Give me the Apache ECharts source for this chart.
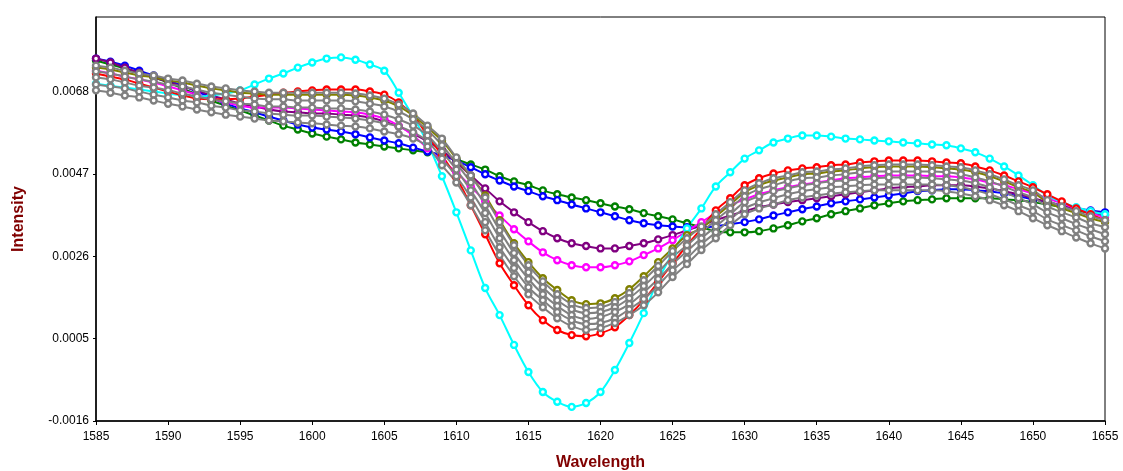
<!DOCTYPE html>
<html>
<head>
<meta charset="utf-8">
<title>Intensity vs Wavelength</title>
<script src="https://cdn.jsdelivr.net/npm/echarts@6/dist/echarts.min.js"></script>
<style>
  html, body { margin: 0; padding: 0; background: #fff; }
  #chart { width: 1123px; height: 471px; }
</style>
</head>
<body>
<div id="chart"></div>
<script>
// 波长采样点：1585 ~ 1655 nm，步长 1 nm
const wavelengths = []
for (let w = 1585; w <= 1655; w++) wavelengths.push(w)

// Y 轴刻度
const yTicks = [-0.0016, 0.0005, 0.0026, 0.0047, 0.0068]

// 各光谱曲线
const cyan = [0.00700,0.00695,0.00690,0.00685,0.00680,0.00675,0.00670,0.00667,0.00670,0.00675,
  0.00683,0.00698,0.00713,0.00726,0.00741,0.00754,0.00764,0.00767,0.00761,0.00749,
  0.00733,0.00677,0.00616,0.00548,0.00464,0.00372,0.00275,0.00179,0.00110,0.00034,
  -0.00035,-0.00086,-0.00111,-0.00124,-0.00114,-0.00086,-0.00030,0.00039,0.00115,0.00199,
  0.00268,0.00331,0.00382,0.00438,0.00474,0.00509,0.00530,0.00550,0.00560,0.00568,
  0.00568,0.00565,0.00560,0.00558,0.00555,0.00553,0.00550,0.00548,0.00545,0.00543,
  0.00535,0.00525,0.00509,0.00489,0.00466,0.00441,0.00415,0.00398,0.00385,0.00375,
  0.00367]

const red = [0.00726,0.00718,0.00711,0.00700,0.00690,0.00680,0.00670,0.00662,0.00660,0.00660,
  0.00662,0.00667,0.00672,0.00677,0.00680,0.00683,0.00685,0.00685,0.00685,0.00680,
  0.00672,0.00652,0.00619,0.00568,0.00517,0.00461,0.00390,0.00316,0.00242,0.00186,
  0.00135,0.00097,0.00072,0.00059,0.00056,0.00064,0.00079,0.00110,0.00148,0.00194,
  0.00242,0.00288,0.00331,0.00377,0.00408,0.00441,0.00459,0.00471,0.00479,0.00484,
  0.00487,0.00492,0.00494,0.00499,0.00502,0.00504,0.00504,0.00504,0.00502,0.00499,
  0.00497,0.00489,0.00479,0.00466,0.00451,0.00436,0.00418,0.00400,0.00382,0.00367,
  0.00352]

const olive = [0.00741,0.00736,0.00728,0.00721,0.00716,0.00708,0.00703,0.00695,0.00688,0.00683,
  0.00677,0.00675,0.00672,0.00672,0.00672,0.00672,0.00672,0.00672,0.00670,0.00665,
  0.00657,0.00642,0.00619,0.00588,0.00555,0.00509,0.00464,0.00415,0.00352,0.00293,
  0.00245,0.00204,0.00174,0.00148,0.00138,0.00140,0.00153,0.00176,0.00209,0.00245,
  0.00280,0.00314,0.00331,0.00362,0.00392,0.00423,0.00441,0.00453,0.00461,0.00469,
  0.00471,0.00476,0.00479,0.00484,0.00487,0.00489,0.00489,0.00489,0.00487,0.00484,
  0.00481,0.00474,0.00464,0.00451,0.00436,0.00423,0.00398,0.00382,0.00370,0.00357,
  0.00347]

const gray1 = [0.00746,0.00741,0.00733,0.00726,0.00721,0.00713,0.00708,0.00700,0.00693,0.00688,
  0.00683,0.00680,0.00677,0.00677,0.00677,0.00677,0.00677,0.00677,0.00675,0.00670,
  0.00662,0.00647,0.00624,0.00593,0.00560,0.00512,0.00466,0.00410,0.00347,0.00288,
  0.00237,0.00196,0.00163,0.00138,0.00128,0.00130,0.00143,0.00166,0.00199,0.00235,
  0.00273,0.00306,0.00336,0.00367,0.00398,0.00428,0.00446,0.00459,0.00466,0.00474,
  0.00476,0.00481,0.00484,0.00489,0.00492,0.00494,0.00494,0.00494,0.00492,0.00489,
  0.00487,0.00479,0.00469,0.00456,0.00441,0.00428,0.00403,0.00387,0.00375,0.00362,
  0.00352]

const gray2 = [0.00731,0.00726,0.00718,0.00711,0.00705,0.00698,0.00693,0.00685,0.00677,0.00672,
  0.00667,0.00662,0.00660,0.00660,0.00657,0.00657,0.00657,0.00657,0.00655,0.00649,
  0.00642,0.00629,0.00609,0.00581,0.00543,0.00497,0.00448,0.00390,0.00326,0.00268,
  0.00219,0.00181,0.00148,0.00125,0.00115,0.00118,0.00130,0.00153,0.00184,0.00219,
  0.00258,0.00288,0.00321,0.00352,0.00382,0.00413,0.00431,0.00441,0.00451,0.00459,
  0.00461,0.00466,0.00469,0.00474,0.00476,0.00476,0.00476,0.00476,0.00476,0.00474,
  0.00469,0.00461,0.00451,0.00438,0.00423,0.00410,0.00387,0.00372,0.00359,0.00344,
  0.00334]

const gray3 = [0.00716,0.00711,0.00703,0.00695,0.00690,0.00683,0.00675,0.00667,0.00660,0.00655,
  0.00649,0.00647,0.00642,0.00642,0.00639,0.00639,0.00637,0.00637,0.00634,0.00629,
  0.00621,0.00609,0.00593,0.00568,0.00527,0.00481,0.00428,0.00370,0.00306,0.00250,
  0.00202,0.00163,0.00133,0.00110,0.00100,0.00105,0.00118,0.00138,0.00168,0.00202,
  0.00240,0.00273,0.00306,0.00336,0.00367,0.00398,0.00413,0.00426,0.00433,0.00441,
  0.00446,0.00451,0.00453,0.00456,0.00459,0.00461,0.00461,0.00461,0.00459,0.00456,
  0.00453,0.00446,0.00436,0.00423,0.00408,0.00392,0.00372,0.00357,0.00342,0.00329,
  0.00316]

const gray4 = [0.00698,0.00693,0.00688,0.00680,0.00672,0.00665,0.00657,0.00652,0.00644,0.00639,
  0.00632,0.00629,0.00624,0.00621,0.00619,0.00619,0.00616,0.00614,0.00611,0.00606,
  0.00599,0.00591,0.00576,0.00553,0.00509,0.00464,0.00410,0.00347,0.00283,0.00230,
  0.00181,0.00148,0.00118,0.00097,0.00087,0.00090,0.00102,0.00125,0.00151,0.00186,
  0.00224,0.00255,0.00291,0.00321,0.00354,0.00382,0.00397,0.00408,0.00418,0.00426,
  0.00431,0.00436,0.00438,0.00441,0.00443,0.00443,0.00443,0.00443,0.00443,0.00441,
  0.00436,0.00428,0.00418,0.00405,0.00390,0.00375,0.00354,0.00339,0.00326,0.00311,
  0.00298]

const gray5 = [0.00683,0.00677,0.00670,0.00665,0.00657,0.00649,0.00642,0.00634,0.00627,0.00621,
  0.00616,0.00611,0.00606,0.00604,0.00601,0.00599,0.00596,0.00593,0.00591,0.00586,
  0.00578,0.00571,0.00560,0.00540,0.00492,0.00448,0.00390,0.00326,0.00263,0.00209,
  0.00163,0.00130,0.00102,0.00082,0.00072,0.00077,0.00090,0.00110,0.00135,0.00168,
  0.00207,0.00240,0.00276,0.00306,0.00339,0.00367,0.00382,0.00392,0.00403,0.00410,
  0.00415,0.00420,0.00423,0.00426,0.00428,0.00428,0.00428,0.00428,0.00428,0.00426,
  0.00420,0.00413,0.00403,0.00390,0.00375,0.00357,0.00339,0.00324,0.00308,0.00293,
  0.00280]

const magenta = [0.00733,0.00726,0.00718,0.00711,0.00703,0.00693,0.00683,0.00672,0.00662,0.00652,
  0.00644,0.00639,0.00639,0.00639,0.00637,0.00634,0.00632,0.00629,0.00627,0.00621,
  0.00611,0.00593,0.00568,0.00535,0.00504,0.00474,0.00438,0.00400,0.00364,0.00329,
  0.00298,0.00270,0.00250,0.00237,0.00232,0.00232,0.00237,0.00247,0.00263,0.00280,
  0.00301,0.00324,0.00347,0.00370,0.00390,0.00405,0.00418,0.00428,0.00436,0.00443,
  0.00448,0.00453,0.00459,0.00461,0.00464,0.00466,0.00466,0.00466,0.00464,0.00464,
  0.00461,0.00456,0.00448,0.00441,0.00431,0.00420,0.00408,0.00395,0.00382,0.00370,
  0.00359]

const purple = [0.00764,0.00754,0.00741,0.00728,0.00716,0.00705,0.00693,0.00683,0.00670,0.00660,
  0.00649,0.00642,0.00634,0.00629,0.00627,0.00624,0.00624,0.00621,0.00619,0.00614,
  0.00604,0.00591,0.00573,0.00553,0.00530,0.00499,0.00466,0.00433,0.00400,0.00372,
  0.00347,0.00324,0.00306,0.00293,0.00286,0.00280,0.00280,0.00286,0.00293,0.00303,
  0.00314,0.00326,0.00339,0.00352,0.00364,0.00375,0.00385,0.00392,0.00398,0.00403,
  0.00408,0.00413,0.00418,0.00423,0.00428,0.00433,0.00436,0.00438,0.00441,0.00441,
  0.00441,0.00438,0.00433,0.00426,0.00418,0.00408,0.00398,0.00390,0.00382,0.00375,
  0.00367]

const blue = [0.00764,0.00756,0.00746,0.00733,0.00721,0.00708,0.00695,0.00680,0.00665,0.00649,
  0.00637,0.00627,0.00616,0.00606,0.00596,0.00588,0.00583,0.00578,0.00571,0.00563,
  0.00555,0.00548,0.00537,0.00527,0.00517,0.00504,0.00487,0.00469,0.00453,0.00438,
  0.00426,0.00413,0.00403,0.00392,0.00382,0.00372,0.00362,0.00352,0.00344,0.00339,
  0.00336,0.00334,0.00334,0.00336,0.00342,0.00347,0.00354,0.00364,0.00372,0.00380,
  0.00387,0.00395,0.00400,0.00405,0.00410,0.00415,0.00420,0.00426,0.00428,0.00431,
  0.00431,0.00428,0.00426,0.00420,0.00413,0.00405,0.00398,0.00390,0.00382,0.00377,
  0.00372]

const green = [0.00759,0.00749,0.00739,0.00728,0.00716,0.00703,0.00688,0.00672,0.00657,0.00644,
  0.00632,0.00619,0.00606,0.00593,0.00583,0.00573,0.00565,0.00558,0.00550,0.00545,
  0.00540,0.00535,0.00530,0.00525,0.00517,0.00507,0.00494,0.00481,0.00464,0.00451,
  0.00441,0.00428,0.00418,0.00410,0.00403,0.00395,0.00387,0.00380,0.00370,0.00362,
  0.00354,0.00344,0.00334,0.00324,0.00321,0.00321,0.00324,0.00331,0.00339,0.00349,
  0.00357,0.00367,0.00375,0.00382,0.00390,0.00395,0.00400,0.00403,0.00405,0.00408,
  0.00408,0.00408,0.00408,0.00405,0.00403,0.00398,0.00392,0.00385,0.00377,0.00370,
  0.00364]

// 绘制顺序（后画的在上层）
const seriesDefs = [
  { name: 'green', color: '#008000', data: green },
  { name: 'blue', color: '#0000ff', data: blue },
  { name: 'purple', color: '#800080', data: purple },
  { name: 'magenta', color: '#ff00ff', data: magenta },
  { name: 'cyan', color: '#00ffff', data: cyan },
  { name: 'red', color: '#ff0000', data: red },
  { name: 'olive', color: '#808000', data: olive },
  { name: 'gray1', color: '#808080', data: gray1 },
  { name: 'gray2', color: '#808080', data: gray2 },
  { name: 'gray3', color: '#808080', data: gray3 },
  { name: 'gray4', color: '#808080', data: gray4 },
  { name: 'gray5', color: '#808080', data: gray5 },
]

const FONT = '"Liberation Sans", Arial, sans-serif'

const buildSeries = (def) => ({
  name: def.name,
  type: 'line',
  data: def.data.map((v, i) => [wavelengths[i], v]),
  smooth: 0.35,
  symbol: 'circle',
  symbolSize: 6,
  showSymbol: true,
  lineStyle: { color: def.color, width: 2 },
  itemStyle: { color: '#ffffff', borderColor: def.color, borderWidth: 2.4 },
  emphasis: { disabled: true },
  z: 2,
})

const chart = echarts.init(document.getElementById('chart'), null, { renderer: 'canvas' })

chart.setOption({
  animation: false,
  backgroundColor: '#ffffff',
  grid: {
    left: 96, right: 18, top: 17, bottom: 50,
    outerBoundsMode: 'none',
    containLabel: false,
    show: true, borderColor: '#000', borderWidth: 1, backgroundColor: 'transparent',
  },
  xAxis: {
    type: 'value',
    min: 1585, max: 1655, interval: 5,
    name: 'Wavelength',
    nameLocation: 'middle',
    nameGap: 34,
    nameTextStyle: { color: '#800000', fontWeight: 'bold', fontSize: 16, fontFamily: FONT },
    axisLine: { show: true, onZero: false, lineStyle: { color: '#000', width: 1.5 } },
    axisTick: { show: true, length: 4, lineStyle: { color: '#000' } },
    axisLabel: { color: '#000', fontSize: 12, fontFamily: FONT, margin: 10, formatter: (v) => String(v) },
    splitLine: { show: false },
  },
  yAxis: {
    type: 'value',
    min: -0.0016, max: 0.0087,
    name: 'Intensity',
    nameLocation: 'middle',
    nameGap: 69,
    nameRotate: 90,
    nameTextStyle: { color: '#800000', fontWeight: 'bold', fontSize: 16, fontFamily: FONT },
    axisLine: { show: true, onZero: false, lineStyle: { color: '#000', width: 1.5 } },
    axisTick: { show: true, length: 3, customValues: yTicks, lineStyle: { color: '#000' } },
    axisLabel: {
      color: '#000', fontSize: 12, fontFamily: FONT, margin: 7,
      customValues: yTicks,
      formatter: (v) => v.toFixed(4),
    },
    splitLine: { show: false },
  },
  series: seriesDefs.map(buildSeries),
})

window.addEventListener('resize', () => chart.resize())
</script>
</body>
</html>
